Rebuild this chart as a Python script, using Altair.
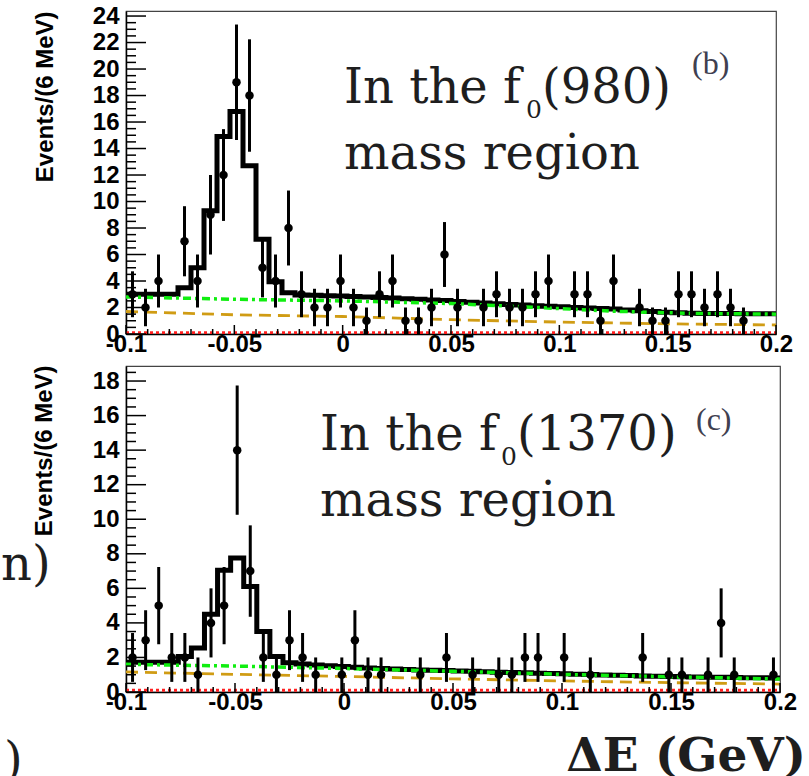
import altair as alt
import pandas as pd
import numpy as np

BIN = 0.006
edges = [round(-0.1 + BIN * i, 4) for i in range(51)]
x_tick_labels = [-0.1, -0.05, 0.0, 0.05, 0.1, 0.15, 0.2]
x_minor = [round(-0.1 + 0.01 * i, 3) for i in range(31)]

# ---------- panel (b): f0(980) region ----------
top_x = [-0.097, -0.091, -0.085, -0.073, -0.067, -0.061, -0.055, -0.049, -0.043, -0.037,
         -0.031, -0.025, -0.019, -0.013, -0.007, -0.001, 0.005, 0.011, 0.017, 0.023,
         0.029, 0.035, 0.041, 0.047, 0.053, 0.065, 0.071, 0.077, 0.083, 0.089,
         0.095, 0.107, 0.113, 0.119, 0.125, 0.137, 0.143, 0.149, 0.155, 0.161,
         0.167, 0.173, 0.179, 0.185]
top_n = [3, 2, 4, 7, 4, 9, 12, 19, 18, 5,
         4, 8, 3, 2, 2, 4, 2, 1, 3, 4,
         1, 1, 2, 6, 2, 2, 3, 2, 2, 3,
         4, 3, 3, 1, 4, 2, 1, 1, 3, 3,
         2, 3, 2, 1]
top_fit = [3.0, 3.0, 3.0, 3.0, 3.5, 5.0, 9.3, 14.9, 16.8, 12.7,
           7.15, 3.95, 3.12, 2.95, 2.92, 2.89, 2.86, 2.83, 2.8, 2.76,
           2.72, 2.67, 2.62, 2.57, 2.52, 2.46, 2.4, 2.34, 2.28, 2.23,
           2.18, 2.14, 2.1, 2.05, 2.0, 1.96, 1.92, 1.88, 1.82, 1.76,
           1.7, 1.65, 1.6, 1.57, 1.55, 1.54, 1.54, 1.53, 1.53, 1.53]
top_bkg_x = [-0.1, -0.05, 0.0, 0.05, 0.09, 0.125, 0.16, 0.2]
top_bkg_y = [2.8, 2.62, 2.5, 2.3, 2.0, 1.72, 1.56, 1.5]
top_cmp_x = [-0.1, -0.05, 0.0, 0.05, 0.1, 0.15, 0.2]
top_cmp_y = [1.7, 1.45, 1.32, 1.08, 0.9, 0.77, 0.68]
top_sig_y = [0.1, 0.1]

# ---------- panel (c): f0(1370) region ----------
bot_x = [-0.097, -0.091, -0.085, -0.079, -0.073, -0.067, -0.061, -0.055, -0.049, -0.043,
         -0.037, -0.031, -0.025, -0.019, -0.013, -0.001, 0.005, 0.011, 0.017, 0.035,
         0.047, 0.059, 0.071, 0.077, 0.083, 0.089, 0.101, 0.113, 0.137, 0.149,
         0.155, 0.167, 0.173, 0.179, 0.197]
bot_n = [2, 3, 5, 2, 2, 1, 4, 5, 14, 7,
         2, 1, 3, 2, 1, 1, 3, 1, 1, 1,
         2, 1, 1, 1, 2, 2, 2, 1, 2, 1,
         1, 1, 4, 1, 1]
bot_fit = [1.72, 1.72, 1.72, 1.72, 2.05, 2.55, 4.5, 7.05, 7.75, 6.1,
           3.5, 2.05, 1.7, 1.62, 1.57, 1.52, 1.47, 1.43, 1.39, 1.36,
           1.33, 1.3, 1.28, 1.26, 1.24, 1.22, 1.2, 1.17, 1.15, 1.13,
           1.11, 1.09, 1.07, 1.05, 1.03, 1.01, 0.99, 0.97, 0.95, 0.93,
           0.91, 0.89, 0.88, 0.87, 0.86, 0.85, 0.84, 0.83, 0.82, 0.81]
bot_bkg_x = [-0.1, -0.05, 0.0, 0.05, 0.1, 0.15, 0.2]
bot_bkg_y = [1.6, 1.5, 1.36, 1.2, 1.02, 0.88, 0.75]
bot_cmp_x = [-0.1, -0.05, 0.0, 0.05, 0.1, 0.15, 0.2]
bot_cmp_y = [1.16, 1.02, 0.9, 0.76, 0.64, 0.54, 0.46]
bot_sig_y = [0.1, 0.1]

SERIF = "DejaVu Serif"
SANS = "Liberation Sans"
GREEN = "#10ee10"
ORANGE = "#d09c14"
RED = "#ff2020"


def text_layer(txt, px, py, size, font=SERIF, weight="normal", color="#1e1e1e", align="left"):
    return alt.Chart(pd.DataFrame({"t": [txt]})).mark_text(
        font=font, fontSize=size, fontWeight=weight, color=color,
        align=align, baseline="alphabetic"
    ).encode(x=alt.value(px), y=alt.value(py), text="t:N")


def panel(W, H, ymax, ytop, xs_pts, ns, fit, bkg_x, bkg_y, cmp_x, cmp_y, sig_y,
          title_x, title_y, anchor, texts):
    xscale = alt.Scale(domain=[-0.1, 0.2], nice=False, zero=False)
    yscale = alt.Scale(domain=[0, ymax], nice=False, zero=False)
    xaxis = alt.Axis(values=x_tick_labels, ticks=False, tickSize=0, grid=False,
                     labelFlush=False, labelOverlap=False, labelPadding=-2,
                     labelExpr="'' + datum.value", title=None,
                     labelFont=SANS, labelFontWeight="bold", labelFontSize=24,
                     labelColor="black", domainColor="black", domainWidth=1.5)
    yaxis = alt.Axis(values=list(range(0, ytop + 1, 2)), ticks=False, tickSize=0, grid=False,
                     labelFlush=False, labelOverlap=False, labelPadding=7,
                     labelFont=SANS, labelFontWeight="bold", labelFontSize=24,
                     labelColor="black", domainColor="black", domainWidth=1.5,
                     title="Events/(6 MeV)", titleFont=SANS, titleFontWeight="bold",
                     titleFontSize=24, titleColor="black", titleAngle=270,
                     titleAlign="right", titleBaseline="middle",
                     titleX=title_x, titleY=title_y)

    def X(f):
        return alt.X(f, type="quantitative", scale=xscale, axis=xaxis)

    def Y(f):
        return alt.Y(f, type="quantitative", scale=yscale, axis=yaxis)

    pts = pd.DataFrame({"x": xs_pts, "y": ns,
                        "lo": [max(n - np.sqrt(n), 0.0) for n in ns],
                        "hi": [n + np.sqrt(n) for n in ns]})
    fitdf = pd.DataFrame({"x": edges, "y": fit + [fit[-1]]})
    bkg = pd.DataFrame({"x": bkg_x, "y": bkg_y})
    cmp = pd.DataFrame({"x": cmp_x, "y": cmp_y})
    sig = pd.DataFrame({"x": [-0.1, 0.2], "y": sig_y})

    ymaj = pd.DataFrame({"y": list(range(0, ytop + 1, 2))})
    ymin = pd.DataFrame({"y": [v for v in np.arange(0, ymax, 0.5) if v % 2 != 0]})
    xmaj = pd.DataFrame({"x": x_tick_labels})
    xmin = pd.DataFrame({"x": [v for v in x_minor if v not in x_tick_labels]})

    layers = [
        alt.Chart(fitdf).mark_line(interpolate="step-after", color="black", strokeWidth=5)
        .encode(x=X("x"), y=Y("y")),
        alt.Chart(cmp).mark_line(color=ORANGE, strokeDash=[12, 7], strokeWidth=2.8)
        .encode(x=X("x"), y=Y("y")),
        alt.Chart(bkg).mark_line(color=GREEN, strokeDash=[8, 4, 3, 4], strokeWidth=3.5)
        .encode(x=X("x"), y=Y("y")),
        alt.Chart(sig).mark_line(color=RED, strokeDash=[3, 3], strokeWidth=2.8)
        .encode(x=X("x"), y=Y("y")),
        alt.Chart(ymaj).mark_rule(color="black", strokeWidth=1.5)
        .encode(y=Y("y"), x=alt.value(0), x2=alt.value(20)),
        alt.Chart(ymin).mark_rule(color="black", strokeWidth=1.5)
        .encode(y=Y("y"), x=alt.value(0), x2=alt.value(10)),
        alt.Chart(xmaj).mark_rule(color="black", strokeWidth=1.5)
        .encode(x=X("x"), y=alt.value(H), y2=alt.value(H - 9)),
        alt.Chart(xmin).mark_rule(color="black", strokeWidth=1.5)
        .encode(x=X("x"), y=alt.value(H), y2=alt.value(H - 5)),
        alt.Chart(pts).mark_rule(color="black", strokeWidth=3)
        .encode(x=X("x"), y=Y("lo"), y2="hi"),
        alt.Chart(pts).mark_circle(color="black", size=72, opacity=1)
        .encode(x=X("x"), y=Y("y")),
        alt.Chart(pd.DataFrame({"a": [0]})).mark_rule(strokeOpacity=0)
        .encode(x=alt.value(anchor[0]), x2=alt.value(anchor[0]),
                y=alt.value(anchor[1]), y2=alt.value(anchor[2])),
    ] + texts
    return alt.layer(*layers).properties(width=W, height=H)


top_texts = [
    text_layer("In the f", 218, 92, 48),
    text_layer("0", 400, 107, 25),
    text_layer("(980)", 416, 92, 48),
    text_layer("mass region", 218, 158, 48),
    text_layer("(b)", 566, 63, 32, font="Liberation Serif", color="#404050"),
]
bot_texts = [
    text_layer("In the f", 194, 84, 48),
    text_layer("0", 375, 99, 25),
    text_layer("(1370)", 391, 84, 48),
    text_layer("mass region", 194, 150, 48),
    text_layer("(c)", 570, 64, 32, font="Liberation Serif", color="#404050"),
    text_layer("n)", -125, 214, 48),
    text_layer(")", -122, 410, 48),
    text_layer("ΔE (GeV)", 680, 405, 47, weight="bold", align="right"),
]

top = panel(650, 323, 24.38, 24, top_x, top_n, top_fit, top_bkg_x, top_bkg_y,
            top_cmp_x, top_cmp_y, top_sig_y, -81, 0, (-120, -10, 350), top_texts)
bottom = panel(654, 326, 18.87, 18, bot_x, bot_n, bot_fit, bot_bkg_x, bot_bkg_y,
               bot_cmp_x, bot_cmp_y, bot_sig_y, -82, -1, (-125, -3, 300), bot_texts)

chart = alt.vconcat(top, bottom, spacing=0).properties(
    padding=0, autosize=alt.AutoSizeParams(type="pad"), background="white"
).configure_view(stroke="#444", strokeWidth=1.2)

chart.save("out.html", embed_options={"renderer": "svg", "actions": False})
